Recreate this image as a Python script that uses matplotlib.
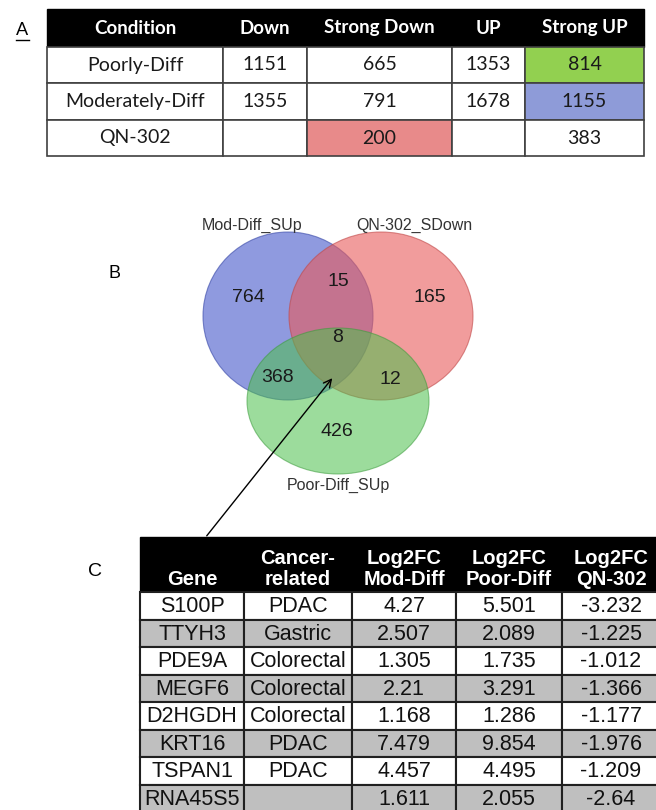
import matplotlib.pyplot as plt
from matplotlib.patches import Rectangle, Ellipse

# ---------------- data
conditions = ['Poorly-Diff', 'Moderately-Diff', 'QN-302']
headerA = ['Condition', 'Down', 'Strong Down', 'UP', 'Strong UP']
down = ['1151', '1355', '']
strongDown = ['665', '791', '200']
up = ['1353', '1678', '']
strongUp = ['814', '1155', '383']

vennSets = ['Mod-Diff_SUp', 'QN-302_SDown', 'Poor-Diff_SUp']
vennCounts = {'mod': 764, 'qn': 165, 'poor': 426, 'mod_qn': 15,
              'mod_poor': 368, 'qn_poor': 12, 'all': 8}

headerC = ['Gene', 'Cancer-\nrelated', 'Log2FC\nMod-Diff', 'Log2FC\nPoor-Diff', 'Log2FC\nQN-302']
genes = ['S100P', 'TTYH3', 'PDE9A', 'MEGF6', 'D2HGDH', 'KRT16', 'TSPAN1', 'RNA45S5']
cancer = ['PDAC', 'Gastric', 'Colorectal', 'Colorectal', 'Colorectal', 'PDAC', 'PDAC', '']
fcMod = ['4.27', '2.507', '1.305', '2.21', '1.168', '7.479', '4.457', '1.611']
fcPoor = ['5.501', '2.089', '1.735', '3.291', '1.286', '9.854', '4.495', '2.055']
fcQN = ['-3.232', '-1.225', '-1.012', '-1.366', '-1.177', '-1.976', '-1.209', '-2.64']

# ---------------- canvas in pixel units
fig = plt.figure(figsize=(6.56, 8.10), dpi=100)
ax = fig.add_axes([0, 0, 1, 1])
ax.set_xlim(0, 656)
ax.set_ylim(810, 0)
ax.axis('off')

#------------- Table A
fontA = 'Lato'
colsA = [47, 223, 307, 452, 525, 644]
rowsA = [9, 47, 83, 120, 156]
cellColors = {(0, 4): '#92d050', (1, 4): '#8e9bd8', (2, 2): '#e88a8a'}
ax.add_patch(Rectangle((colsA[0], rowsA[0]), colsA[-1] - colsA[0], rowsA[1] - rowsA[0],
                       facecolor='black', edgecolor='black'))
for j, h in enumerate(headerA):
    ax.text((colsA[j] + colsA[j + 1]) / 2, (rowsA[0] + rowsA[1]) / 2, h, color='white',
            fontsize=13.5, fontweight='bold', family=fontA, ha='center', va='center')
columnsA = [conditions, down, strongDown, up, strongUp]
for i in range(len(conditions)):
    for j in range(5):
        x0, x1 = colsA[j], colsA[j + 1]
        y0, y1 = rowsA[i + 1], rowsA[i + 2]
        ax.add_patch(Rectangle((x0, y0), x1 - x0, y1 - y0,
                               facecolor=cellColors.get((i, j), 'white'),
                               edgecolor='#404040', linewidth=1.2))
        ax.text((x0 + x1) / 2, (y0 + y1) / 2, columnsA[j][i], fontsize=14,
                family=fontA, ha='center', va='center', color='#1a1a1a')
ax.text(22, 30, 'A', fontsize=13, family=fontA, ha='center', va='center')
ax.plot([16, 29], [40, 40], color='black', linewidth=1)

#------------- Venn diagram B
fontB = 'Liberation Sans'
ax.add_patch(Ellipse((288, 316), 170, 168, facecolor='#4a5ccc', alpha=0.62,
                     edgecolor='#3a4aa8', linewidth=0.8))
ax.add_patch(Ellipse((381, 316), 184, 168, facecolor='#e85a5a', alpha=0.6,
                     edgecolor='#c04848', linewidth=0.8))
ax.add_patch(Ellipse((338, 401), 182, 146, facecolor='#4cc04c', alpha=0.55,
                     edgecolor='#3a9a3a', linewidth=0.8))
ax.text(252, 225, vennSets[0], fontsize=11.5, family=fontB, ha='center', va='center',
        color='#333333')
ax.text(414, 225, vennSets[1], fontsize=11.5, family=fontB, ha='center', va='center',
        color='#333333')
ax.text(338, 485, vennSets[2], fontsize=11.5, family=fontB, ha='center', va='center',
        color='#333333')
vennPos = {'mod': (248, 298), 'qn': (430, 297), 'poor': (337, 432), 'mod_qn': (338, 282),
           'mod_poor': (278, 377), 'qn_poor': (390, 380), 'all': (338, 337)}
for k, v in vennCounts.items():
    ax.text(vennPos[k][0], vennPos[k][1], str(v), fontsize=14, family=fontB,
            ha='center', va='center', color='#1a1a1a')
ax.text(115, 273, 'B', fontsize=13, family=fontB, ha='center', va='center')
ax.annotate('', xy=(334, 376), xytext=(205, 538),
            arrowprops=dict(arrowstyle='->', color='black', linewidth=1,
                            mutation_scale=14))

#------------- Table C
fontC = 'Liberation Sans'
colsC = [140, 244, 352, 456, 562, 660]
headerTop, headerBottom, rowHeight = 537, 592, 27.5
ax.add_patch(Rectangle((colsC[0], headerTop), colsC[-1] - colsC[0], headerBottom - headerTop,
                       facecolor='black', edgecolor='black'))
for j, h in enumerate(headerC):
    ax.text((colsC[j] + colsC[j + 1]) / 2, headerBottom - 3, h, color='white',
            fontsize=14.5, fontweight='bold', family=fontC, ha='center', va='bottom',
            linespacing=1.1)
columnsC = [genes, cancer, fcMod, fcPoor, fcQN]
for i in range(len(genes)):
    y0 = headerBottom + i * rowHeight
    for j in range(5):
        x0, x1 = colsC[j], colsC[j + 1]
        ax.add_patch(Rectangle((x0, y0), x1 - x0, rowHeight,
                               facecolor='#bfbfbf' if i % 2 else 'white',
                               edgecolor='#202020', linewidth=1.5))
        ax.text((x0 + x1) / 2, y0 + rowHeight / 2 + 1, columnsC[j][i], fontsize=15.5,
                family=fontC, ha='center', va='center', color='#111111')
ax.text(95, 571, 'C', fontsize=14, family=fontC, ha='center', va='center')

fig.savefig('out.png', dpi=100)
